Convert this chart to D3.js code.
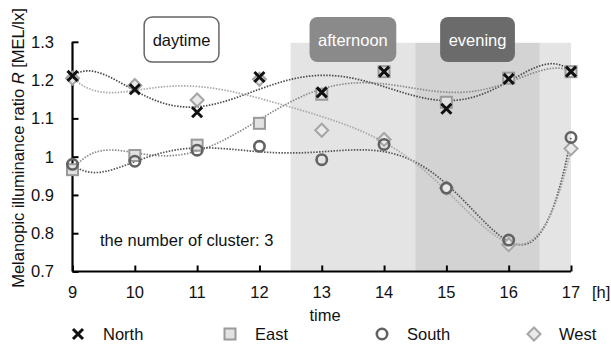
<!DOCTYPE html>
<html>
<head>
<meta charset="utf-8">
<script src="https://cdn.jsdelivr.net/npm/d3@7"></script>
<style>
  body { margin: 0; background: #fff; }
  svg { display: block; font-family: "Liberation Sans", Arial, sans-serif; }
</style>
</head>
<body>
<svg id="chart" width="611" height="347"></svg>
<script>
// values
const hours = [9, 10, 11, 12, 13, 14, 15, 16, 17];
const north = [1.211, 1.176, 1.116, 1.208, 1.168, 1.222, 1.125, 1.203, 1.222];
const east  = [0.966, 1.003, 1.030, 1.087, 1.163, 1.222, 1.142, 1.205, 1.222];
const south = [0.980, 0.988, 1.017, 1.027, 0.992, 1.032, 0.918, 0.782, 1.050];
const west  = [1.205, 1.186, 1.148, 1.202, 1.069, 1.045, 0.918, 0.770, 1.021];
const yTicks = [0.7, 0.8, 0.9, 1, 1.1, 1.2, 1.3];

const periodNames = ["daytime", "afternoon", "evening"];
const periodStart = [9, 12.5, 14.5];
const periodEnd = [12.5, 14.5, 16.5];

const bandStart = [12.5, 14.5, 16.5];
const bandEnd = [14.5, 16.5, 17];

const seriesNames = ["North", "East", "South", "West"];

const FONT = "16.5px";
const svg = d3.select("#chart");

const x = d3.scaleLinear().domain([9, 17]).range([72.5, 571]);
const y = d3.scaleLinear().domain([0.7, 1.3]).range([271.5, 41.8]);

// shaded bands
const bandFill = ["#e4e4e4", "#d3d3d3", "#e4e4e4"];
svg.selectAll("rect.band")
  .data(bandStart)
  .enter()
  .append("rect")
  .attr("class", "band")
  .attr("x", (d) => x(d))
  .attr("width", (d, i) => x(bandEnd[i]) - x(d))
  .attr("y", y(1.3) + 1)
  .attr("height", y(0.7) - y(1.3) - 1)
  .attr("fill", (d, i) => bandFill[i]);

// axes
const yAxis = d3.axisRight(y).tickValues(yTicks).tickSize(6).tickFormat("");
svg.append("g")
  .attr("transform", `translate(${x(9)},0)`)
  .call(yAxis)
  .call((g) => g.select(".domain").attr("stroke-width", 2.2).attr("d", `M0,${y(1.3)}V${y(0.7)}`))
  .call((g) => g.selectAll(".tick line").attr("stroke-width", 2));

const xAxis = d3.axisTop(x).tickValues(hours).tickSize(6).tickFormat("");
svg.append("g")
  .attr("transform", `translate(0,${y(0.7)})`)
  .call(xAxis)
  .call((g) => g.select(".domain").attr("stroke-width", 2.2).attr("d", `M${x(9)},0H${x(17)}`))
  .call((g) => g.selectAll(".tick line").attr("stroke-width", 2));

svg.selectAll("text.ytick")
  .data(yTicks)
  .enter()
  .append("text")
  .attr("class", "ytick")
  .attr("x", 54)
  .attr("y", (d) => y(d))
  .attr("dy", "0.36em")
  .attr("text-anchor", "end")
  .attr("font-size", FONT)
  .attr("fill", "#111")
  .text((d) => d3.format("~g")(d));

svg.selectAll("text.xtick")
  .data(hours)
  .enter()
  .append("text")
  .attr("class", "xtick")
  .attr("x", (d) => x(d))
  .attr("y", 298)
  .attr("text-anchor", "middle")
  .attr("font-size", FONT)
  .attr("fill", "#111")
  .text((d) => d);

svg.append("text")
  .attr("x", 592)
  .attr("y", 298)
  .attr("font-size", FONT)
  .attr("fill", "#111")
  .text("[h]");

svg.append("text")
  .attr("x", 325)
  .attr("y", 321)
  .attr("text-anchor", "middle")
  .attr("font-size", FONT)
  .attr("fill", "#111")
  .text("time");

const yTitle = svg.append("text")
  .attr("transform", "translate(24,148) rotate(-90)")
  .attr("text-anchor", "middle")
  .attr("font-size", FONT)
  .attr("fill", "#111");
yTitle.append("tspan").text("Melanopic illuminance ratio ");
yTitle.append("tspan").attr("font-style", "italic").text("R");
yTitle.append("tspan").text(" [MEL/lx]");

svg.append("text")
  .attr("x", 100)
  .attr("y", 246)
  .attr("font-size", FONT)
  .attr("fill", "#111")
  .text("the number of cluster: 3");

// period label boxes
const boxFill = ["#fff", "#8a8a8a", "#6b6b6b"];
const boxText = ["#111", "#fff", "#fff"];
periodNames.forEach((name, i) => {
  const cx = x((periodStart[i] + periodEnd[i]) / 2);
  const g = svg.append("g");
  const rect = g.append("rect")
    .attr("y", 17)
    .attr("height", 45)
    .attr("rx", 8)
    .attr("fill", boxFill[i])
    .attr("stroke", i === 0 ? "#666" : "none")
    .attr("stroke-width", 1.5);
  const t = g.append("text")
    .attr("x", cx)
    .attr("y", 46)
    .attr("text-anchor", "middle")
    .attr("font-size", FONT)
    .attr("fill", boxText[i])
    .text(name);
  const w = Math.max(72, t.node().getComputedTextLength() + 17);
  rect.attr("x", cx - w / 2).attr("width", w);
});

// 6th order polynomial trend line fitted to each series
function polyFit(xs, ys, deg) {
  const n = deg + 1;
  const A = d3.range(n).map(() => new Array(n + 1).fill(0));
  xs.forEach((xv, k) => {
    const t = (xv - 13) / 4;
    const p = d3.range(n).map((i) => Math.pow(t, i));
    for (let i = 0; i < n; i++) {
      for (let j = 0; j < n; j++) A[i][j] += p[i] * p[j];
      A[i][n] += p[i] * ys[k];
    }
  });
  for (let c = 0; c < n; c++) {
    let piv = c;
    for (let r = c + 1; r < n; r++) if (Math.abs(A[r][c]) > Math.abs(A[piv][c])) piv = r;
    [A[c], A[piv]] = [A[piv], A[c]];
    for (let r = 0; r < n; r++) {
      if (r === c) continue;
      const f = A[r][c] / A[c][c];
      for (let j = c; j <= n; j++) A[r][j] -= f * A[c][j];
    }
  }
  const coef = d3.range(n).map((i) => A[i][n] / A[i][i]);
  return (xv) => {
    const t = (xv - 13) / 4;
    return coef.reduce((s, c, i) => s + c * Math.pow(t, i), 0);
  };
}

const allSeries = [north, east, south, west];
const lineColor = ["#4a4a4a", "#8a8a8a", "#555", "#a8a8a8"];
const line = d3.line().x((d) => x(d[0])).y((d) => y(d[1]));
const grid = d3.range(9, 17.001, 0.04);

allSeries.forEach((vals, i) => {
  const f = polyFit(hours, vals, 6);
  svg.append("path")
    .datum(grid.map((h) => [h, f(h)]))
    .attr("d", line)
    .attr("fill", "none")
    .attr("stroke", lineColor[i])
    .attr("stroke-width", 1.7)
    .attr("stroke-dasharray", "1.5,1.4");
});

// markers
function drawMarker(g, kind, px, py) {
  if (kind === "North") {
    g.append("path")
      .attr("d", `M${px - 5},${py - 5}L${px + 5},${py + 5}M${px - 5},${py + 5}L${px + 5},${py - 5}`)
      .attr("stroke", "#111")
      .attr("stroke-width", 3)
      .attr("fill", "none");
  } else if (kind === "East") {
    g.append("rect")
      .attr("x", px - 5.5).attr("y", py - 5.5)
      .attr("width", 11).attr("height", 11)
      .attr("fill", "#e2e2e2")
      .attr("stroke", "#9a9a9a")
      .attr("stroke-width", 2);
  } else if (kind === "South") {
    g.append("circle")
      .attr("cx", px).attr("cy", py).attr("r", 5.2)
      .attr("fill", "none")
      .attr("stroke", "#626262")
      .attr("stroke-width", 2.6);
  } else {
    g.append("path")
      .attr("d", `M${px},${py - 6.5}L${px + 6.5},${py}L${px},${py + 6.5}L${px - 6.5},${py}Z`)
      .attr("fill", "#eaeaea")
      .attr("stroke", "#a5a5a5")
      .attr("stroke-width", 2);
  }
}

const drawOrder = [1, 3, 2, 0];
drawOrder.forEach((i) => {
  const g = svg.append("g");
  allSeries[i].forEach((v, k) => drawMarker(g, seriesNames[i], x(hours[k]), y(v)));
});

// legend
const legendX = [78, 230, 382, 534];
seriesNames.forEach((name, i) => {
  const g = svg.append("g");
  drawMarker(g, name, legendX[i], 334);
  g.append("text")
    .attr("x", legendX[i] + 25)
    .attr("y", 340)
    .attr("font-size", FONT)
    .attr("fill", "#111")
    .text(name);
});
</script>
</body>
</html>
